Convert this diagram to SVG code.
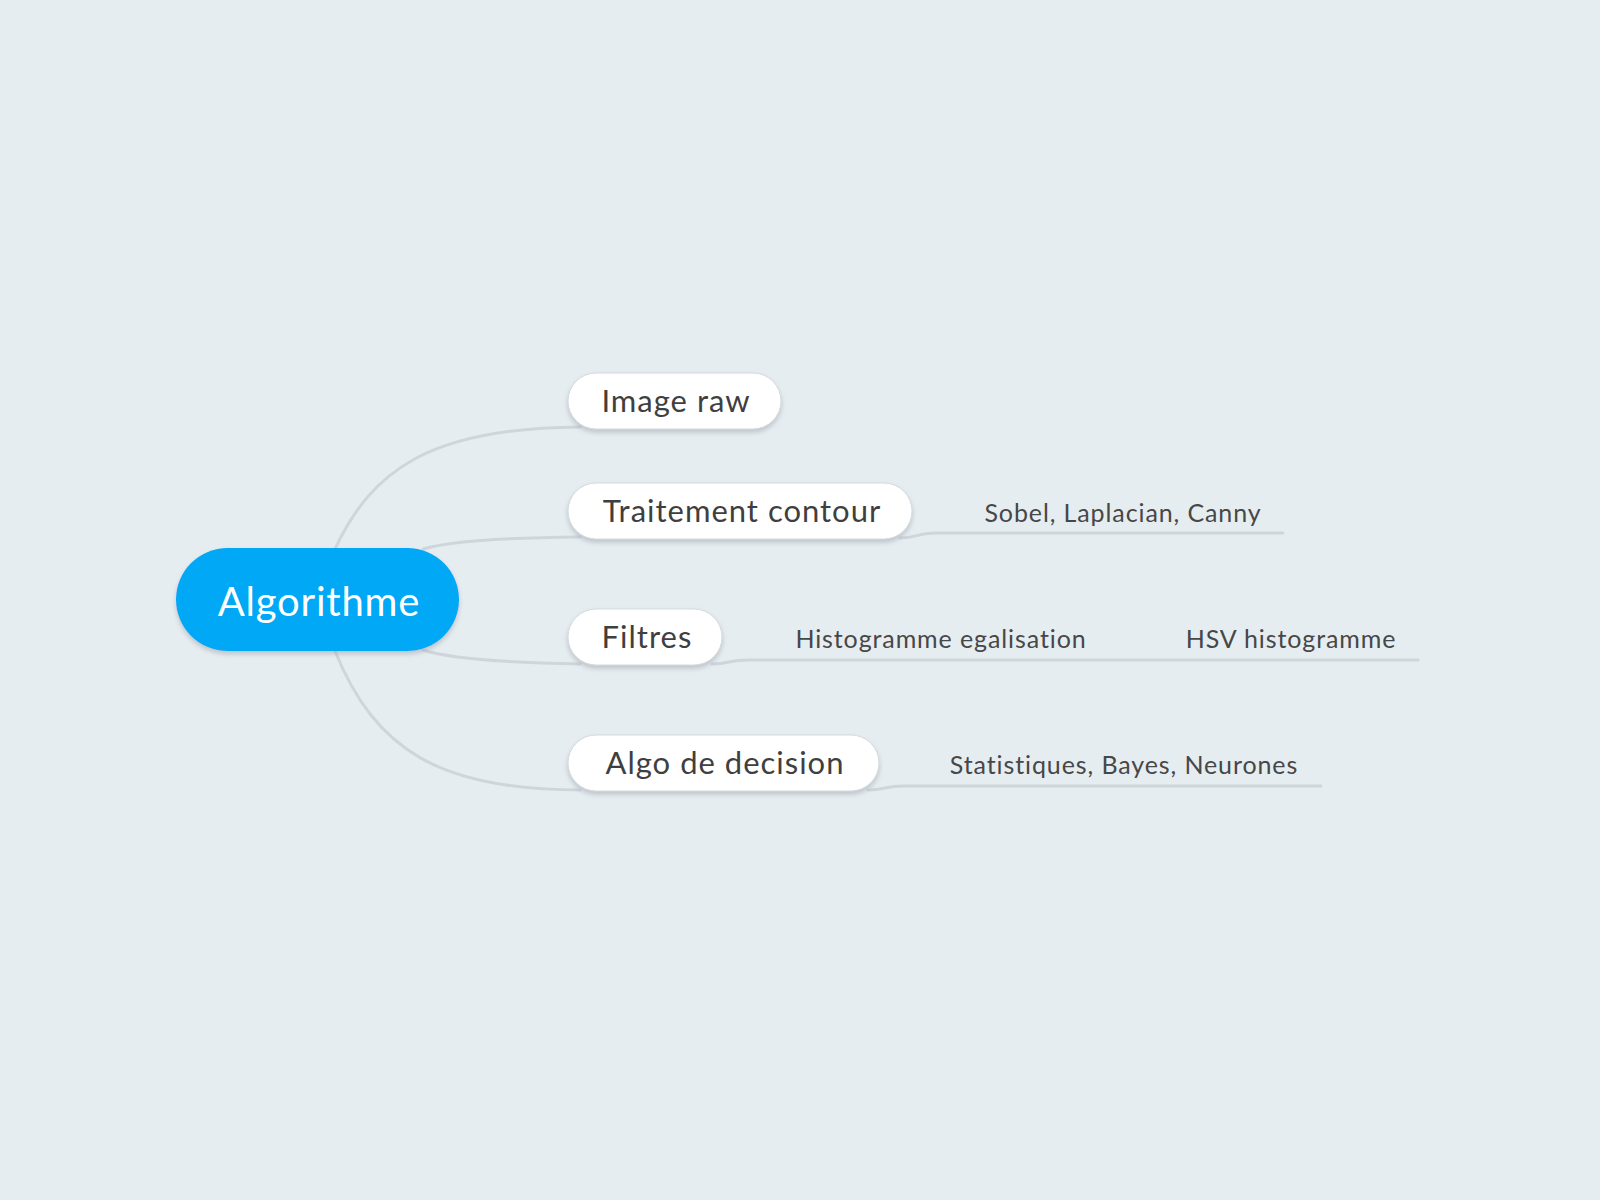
<svg xmlns="http://www.w3.org/2000/svg" width="1600" height="1200" viewBox="0 0 1600 1200">
<defs>
<filter id="sh" x="-20%" y="-30%" width="140%" height="170%">
<feDropShadow dx="0" dy="3" stdDeviation="2.5" flood-color="#8a9399" flood-opacity="0.45"/>
</filter>
<style>
.bg{fill:#e6edf1}
.conn{fill:none;stroke:#cfd6db;stroke-width:3;stroke-linecap:round}
.node{fill:#ffffff;stroke:#d5dadd;stroke-width:1;filter:url(#sh)}
.root{fill:#00a8f5;filter:url(#sh)}
.t1{font-family:Lato,"Open Sans",sans-serif;font-size:31px;letter-spacing:1px;fill:#3f3f3f}
.t0{font-family:Lato,"Open Sans",sans-serif;font-size:40px;letter-spacing:0.8px;fill:#ffffff}
.t2{font-family:Lato,"Open Sans",sans-serif;font-size:25px;letter-spacing:0.9px;fill:#474747}
</style>
</defs>
<rect class="bg" x="0" y="0" width="1600" height="1200"/>
<g id="connectors">
<path class="conn" d="M 335 549 C 372 470 430 428 580 427"/>
<path class="conn" d="M 423 549 Q 460 538 580 537"/>
<path class="conn" d="M 423 650 Q 460 662 580 664"/>
<path class="conn" d="M 335 651 C 375 750 440 790 580 790"/>
<path class="conn" d="M 900 538 C 918 538 915 533 935 533 L 1283 533"/>
<path class="conn" d="M 712 664 C 730 664 728 660 748 660 L 1418 660"/>
<path class="conn" d="M 868 790 C 886 790 884 786 904 786 L 1321 786"/>
</g>
<g id="node-root">
<rect class="root" x="176" y="548" width="283" height="103" rx="51.5"/>
<text class="t0" x="319" y="616" text-anchor="middle">Algorithme</text>
</g>
<g id="node-image-raw">
<rect class="node" x="568" y="373" width="213" height="56" rx="28"/>
<text class="t1" x="676" y="412" text-anchor="middle">Image raw</text>
</g>
<g id="node-traitement">
<rect class="node" x="568" y="483" width="344" height="56" rx="28"/>
<text class="t1" x="742" y="522" text-anchor="middle">Traitement contour</text>
</g>
<g id="node-filtres">
<rect class="node" x="568" y="609" width="154" height="56" rx="28"/>
<text class="t1" x="647" y="648" text-anchor="middle">Filtres</text>
</g>
<g id="node-algo">
<rect class="node" x="568" y="735" width="311" height="56" rx="28"/>
<text class="t1" x="725" y="774" text-anchor="middle">Algo de decision</text>
</g>
<g id="node-sobel">
<text class="t2" x="1123" y="522" text-anchor="middle">Sobel, Laplacian, Canny</text>
</g>
<g id="node-histo">
<text class="t2" x="941" y="648" text-anchor="middle">Histogramme egalisation</text>
</g>
<g id="node-hsv">
<text class="t2" x="1291" y="648" text-anchor="middle">HSV histogramme</text>
</g>
<g id="node-stats">
<text class="t2" x="1124" y="774" text-anchor="middle">Statistiques, Bayes, Neurones</text>
</g>
</svg>
